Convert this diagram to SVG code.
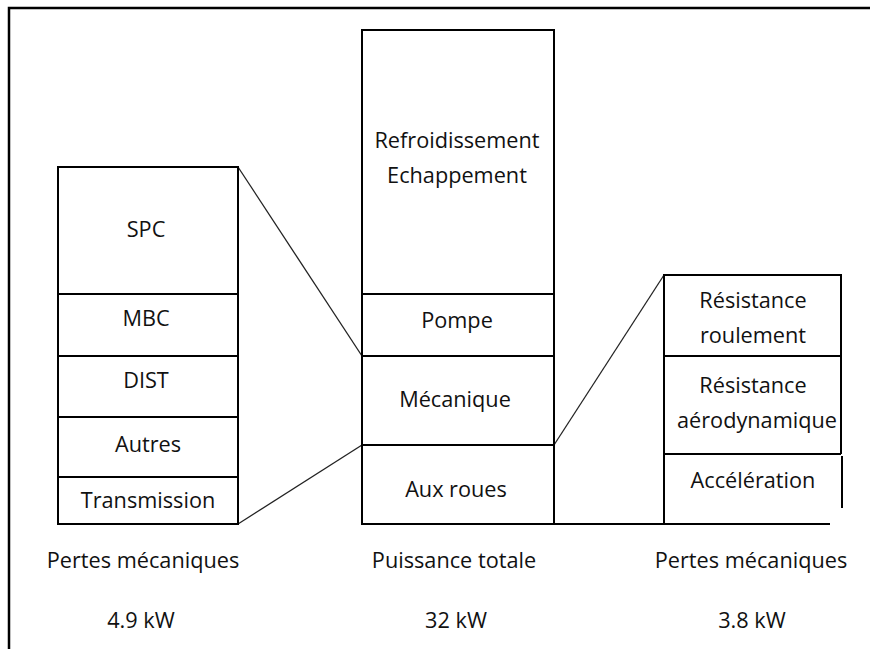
<svg xmlns="http://www.w3.org/2000/svg" width="870" height="649" viewBox="0 0 870 649">
<style>
.box{fill:#fff;stroke:#000;stroke-width:2}
.div{stroke:#000;stroke-width:2}
.con{stroke:#222;stroke-width:1.3;fill:none}
text{font-family:"Open Sans","DejaVu Sans",sans-serif;font-size:21.7px;fill:#111;text-anchor:middle}
</style>
<rect width="870" height="649" fill="#fff"/>
<g id="frame"><path d="M9,649 V8 H870" fill="none" stroke="#000" stroke-width="2.5"/></g>
<g id="connectors">
<line class="con" x1="238" y1="167" x2="362" y2="356"/>
<line class="con" x1="238" y1="524" x2="362" y2="445"/>
<line class="con" x1="554" y1="445" x2="664" y2="275"/>
<line class="div" x1="554" y1="524" x2="664" y2="524"/>
</g>
<g id="left-stack">
<rect class="box" x="58" y="167" width="180" height="357"/>
<line class="div" x1="58" y1="294" x2="238" y2="294"/>
<line class="div" x1="58" y1="356" x2="238" y2="356"/>
<line class="div" x1="58" y1="417" x2="238" y2="417"/>
<line class="div" x1="58" y1="477" x2="238" y2="477"/>
<text x="146" y="237">SPC</text>
<text x="146" y="326">MBC</text>
<text x="146" y="388">DIST</text>
<text x="148" y="452">Autres</text>
<text x="148" y="508">Transmission</text>
</g>
<g id="middle-stack">
<rect class="box" x="362" y="30" width="192" height="494"/>
<line class="div" x1="362" y1="294" x2="554" y2="294"/>
<line class="div" x1="362" y1="356" x2="554" y2="356"/>
<line class="div" x1="362" y1="445" x2="554" y2="445"/>
<text x="457" y="148">Refroidissement</text>
<text x="457" y="183">Echappement</text>
<text x="457" y="328">Pompe</text>
<text x="455" y="407">Mécanique</text>
<text x="456" y="497">Aux roues</text>
</g>
<g id="right-stack">
<path class="div" fill="none" d="M830,524 H664 V275 H841 V454"/>
<line class="div" x1="842" y1="456" x2="842" y2="508"/>
<line class="div" x1="664" y1="356" x2="841" y2="356"/>
<line class="div" x1="664" y1="454" x2="841" y2="454"/>
<text x="753" y="308">Résistance</text>
<text x="753" y="343">roulement</text>
<text x="753" y="393">Résistance</text>
<text x="757" y="428">aérodynamique</text>
<text x="753" y="488">Accélération</text>
</g>
<g id="labels">
<text x="143" y="568">Pertes mécaniques</text>
<text x="141" y="628">4.9 kW</text>
<text x="454" y="568">Puissance totale</text>
<text x="456" y="628">32 kW</text>
<text x="751" y="568">Pertes mécaniques</text>
<text x="752" y="628">3.8 kW</text>
</g>
</svg>
